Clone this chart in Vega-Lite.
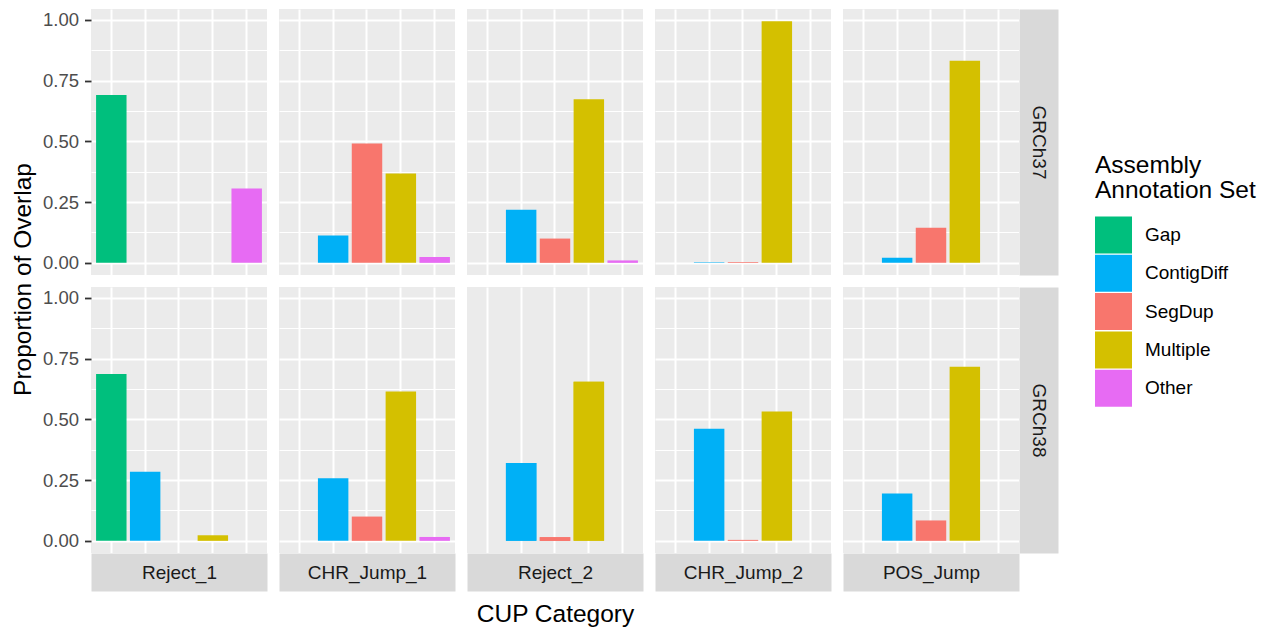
{
  "$schema": "https://vega.github.io/schema/vega-lite/v6.json",
  "autosize": {"type": "none"},
  "padding": {"left": 91, "top": 9, "right": 1176, "bottom": 619},
  "background": "white",
  "bounds": "flush",
  "columns": 5,
  "spacing": 12,
  "datasets": {
    "bars": [
      {"assembly": "GRCh37", "cup": "Reject_1", "set": "Gap", "value": 0.691},
      {"assembly": "GRCh37", "cup": "Reject_1", "set": "Other", "value": 0.306},
      {"assembly": "GRCh37", "cup": "CHR_Jump_1", "set": "ContigDiff", "value": 0.113},
      {"assembly": "GRCh37", "cup": "CHR_Jump_1", "set": "SegDup", "value": 0.491},
      {"assembly": "GRCh37", "cup": "CHR_Jump_1", "set": "Multiple", "value": 0.368},
      {"assembly": "GRCh37", "cup": "CHR_Jump_1", "set": "Other", "value": 0.024},
      {"assembly": "GRCh37", "cup": "Reject_2", "set": "ContigDiff", "value": 0.219},
      {"assembly": "GRCh37", "cup": "Reject_2", "set": "SegDup", "value": 0.1},
      {"assembly": "GRCh37", "cup": "Reject_2", "set": "Multiple", "value": 0.673},
      {"assembly": "GRCh37", "cup": "Reject_2", "set": "Other", "value": 0.01},
      {"assembly": "GRCh37", "cup": "CHR_Jump_2", "set": "ContigDiff", "value": 0.003},
      {"assembly": "GRCh37", "cup": "CHR_Jump_2", "set": "SegDup", "value": 0.003},
      {"assembly": "GRCh37", "cup": "CHR_Jump_2", "set": "Multiple", "value": 0.995},
      {"assembly": "GRCh37", "cup": "POS_Jump", "set": "ContigDiff", "value": 0.021},
      {"assembly": "GRCh37", "cup": "POS_Jump", "set": "SegDup", "value": 0.145},
      {"assembly": "GRCh37", "cup": "POS_Jump", "set": "Multiple", "value": 0.832},
      {"assembly": "GRCh38", "cup": "Reject_1", "set": "Gap", "value": 0.687},
      {"assembly": "GRCh38", "cup": "Reject_1", "set": "ContigDiff", "value": 0.284},
      {"assembly": "GRCh38", "cup": "Reject_1", "set": "Multiple", "value": 0.023},
      {"assembly": "GRCh38", "cup": "CHR_Jump_1", "set": "ContigDiff", "value": 0.258},
      {"assembly": "GRCh38", "cup": "CHR_Jump_1", "set": "SegDup", "value": 0.1},
      {"assembly": "GRCh38", "cup": "CHR_Jump_1", "set": "Multiple", "value": 0.615},
      {"assembly": "GRCh38", "cup": "CHR_Jump_1", "set": "Other", "value": 0.016},
      {"assembly": "GRCh38", "cup": "Reject_2", "set": "ContigDiff", "value": 0.321},
      {"assembly": "GRCh38", "cup": "Reject_2", "set": "SegDup", "value": 0.015},
      {"assembly": "GRCh38", "cup": "Reject_2", "set": "Multiple", "value": 0.655},
      {"assembly": "GRCh38", "cup": "CHR_Jump_2", "set": "ContigDiff", "value": 0.461},
      {"assembly": "GRCh38", "cup": "CHR_Jump_2", "set": "SegDup", "value": 0.004},
      {"assembly": "GRCh38", "cup": "CHR_Jump_2", "set": "Multiple", "value": 0.532},
      {"assembly": "GRCh38", "cup": "POS_Jump", "set": "ContigDiff", "value": 0.195},
      {"assembly": "GRCh38", "cup": "POS_Jump", "set": "SegDup", "value": 0.084},
      {"assembly": "GRCh38", "cup": "POS_Jump", "set": "Multiple", "value": 0.717}
    ]
  },
  "data": {"name": "bars"},
  "concat": [
    {
      "width": 176, "height": 266,
      "transform": [{"filter": "datum.assembly === 'GRCh37' && datum.cup === 'Reject_1'"}],
      "mark": {"type": "bar"},
      "encoding": {
        "x": {"field": "set", "type": "nominal", "scale": {"domain": ["Gap", "ContigDiff", "SegDup", "Multiple", "Other"], "paddingInner": 0.1, "paddingOuter": 0.15},
              "axis": {"grid": true, "bandPosition": 0.5, "labels": false, "ticks": false, "domain": false, "title": null, "gridColor": "#FFFFFF", "gridWidth": 2}},
        "y": {"field": "value", "type": "quantitative", "scale": {"domain": [-0.05, 1.045], "nice": false},
              "axis": {"grid": true, "values": [0, 0.125, 0.25, 0.375, 0.5, 0.625, 0.75, 0.875, 1], "gridColor": "#FFFFFF",
                       "gridWidth": {"condition": {"test": "datum.value * 4 === round(datum.value * 4)", "value": 2}, "value": 1},
                       "domain": false, "labelOverlap": false,
                       "labelExpr": "datum.value * 4 === round(datum.value * 4) ? format(datum.value, '.2f') : ''",
                       "labelFontSize": 18.5, "labelColor": "#4D4D4D", "labelPadding": 6,
                       "ticks": true, "tickSize": 6.5, "tickColor": "#333333", "tickWidth": 1.8,
                       "tickOpacity": {"condition": {"test": "datum.value * 4 === round(datum.value * 4)", "value": 1}, "value": 0},
                       "title": "Proportion of Overlap", "titleX": -68, "titleY": 270, "titleAngle": -90, "titleAlign": "center", "titleBaseline": "middle",
                       "titleFontSize": 24.5, "titleFontWeight": "normal", "titleColor": "#000000"}},
        "color": {"field": "set", "type": "nominal", "scale": {"domain": ["Gap", "ContigDiff", "SegDup", "Multiple", "Other"], "range": ["#00BF7D", "#00B0F6", "#F8766D", "#D4C000", "#E76BF3"]},
                  "legend": {"title": ["Assembly", "Annotation Set"], "orient": "none", "legendX": 1004, "legendY": 145, "symbolType": "square", "symbolSize": 1369, "symbolStrokeWidth": 0, "symbolOpacity": 1,
                             "labelFontSize": 19, "labelColor": "#000000", "labelOffset": 13, "titleFontSize": 24.5, "titleFontWeight": "normal", "titleColor": "#000000", "titleLineHeight": 25, "titlePadding": 13, "rowPadding": 1.3, "padding": 0}}
      }
    },
    {
      "width": 176, "height": 266,
      "transform": [{"filter": "datum.assembly === 'GRCh37' && datum.cup === 'CHR_Jump_1'"}],
      "mark": {"type": "bar"},
      "encoding": {
        "x": {"field": "set", "type": "nominal", "scale": {"domain": ["Gap", "ContigDiff", "SegDup", "Multiple", "Other"], "paddingInner": 0.1, "paddingOuter": 0.15},
              "axis": {"grid": true, "bandPosition": 0.5, "labels": false, "ticks": false, "domain": false, "title": null, "gridColor": "#FFFFFF", "gridWidth": 2}},
        "y": {"field": "value", "type": "quantitative", "scale": {"domain": [-0.05, 1.045], "nice": false},
              "axis": {"grid": true, "values": [0, 0.125, 0.25, 0.375, 0.5, 0.625, 0.75, 0.875, 1], "gridColor": "#FFFFFF",
                       "gridWidth": {"condition": {"test": "datum.value * 4 === round(datum.value * 4)", "value": 2}, "value": 1},
                       "domain": false, "labels": false, "ticks": false, "title": null}},
        "color": {"field": "set", "type": "nominal", "scale": {"domain": ["Gap", "ContigDiff", "SegDup", "Multiple", "Other"], "range": ["#00BF7D", "#00B0F6", "#F8766D", "#D4C000", "#E76BF3"]},
                  "legend": {"title": ["Assembly", "Annotation Set"], "orient": "none", "legendX": 1004, "legendY": 145, "symbolType": "square", "symbolSize": 1369, "symbolStrokeWidth": 0, "symbolOpacity": 1,
                             "labelFontSize": 19, "labelColor": "#000000", "labelOffset": 13, "titleFontSize": 24.5, "titleFontWeight": "normal", "titleColor": "#000000", "titleLineHeight": 25, "titlePadding": 13, "rowPadding": 1.3, "padding": 0}}
      }
    },
    {
      "width": 176, "height": 266,
      "transform": [{"filter": "datum.assembly === 'GRCh37' && datum.cup === 'Reject_2'"}],
      "mark": {"type": "bar"},
      "encoding": {
        "x": {"field": "set", "type": "nominal", "scale": {"domain": ["Gap", "ContigDiff", "SegDup", "Multiple", "Other"], "paddingInner": 0.1, "paddingOuter": 0.15},
              "axis": {"grid": true, "bandPosition": 0.5, "labels": false, "ticks": false, "domain": false, "title": null, "gridColor": "#FFFFFF", "gridWidth": 2}},
        "y": {"field": "value", "type": "quantitative", "scale": {"domain": [-0.05, 1.045], "nice": false},
              "axis": {"grid": true, "values": [0, 0.125, 0.25, 0.375, 0.5, 0.625, 0.75, 0.875, 1], "gridColor": "#FFFFFF",
                       "gridWidth": {"condition": {"test": "datum.value * 4 === round(datum.value * 4)", "value": 2}, "value": 1},
                       "domain": false, "labels": false, "ticks": false, "title": null}},
        "color": {"field": "set", "type": "nominal", "scale": {"domain": ["Gap", "ContigDiff", "SegDup", "Multiple", "Other"], "range": ["#00BF7D", "#00B0F6", "#F8766D", "#D4C000", "#E76BF3"]},
                  "legend": {"title": ["Assembly", "Annotation Set"], "orient": "none", "legendX": 1004, "legendY": 145, "symbolType": "square", "symbolSize": 1369, "symbolStrokeWidth": 0, "symbolOpacity": 1,
                             "labelFontSize": 19, "labelColor": "#000000", "labelOffset": 13, "titleFontSize": 24.5, "titleFontWeight": "normal", "titleColor": "#000000", "titleLineHeight": 25, "titlePadding": 13, "rowPadding": 1.3, "padding": 0}}
      }
    },
    {
      "width": 176, "height": 266,
      "transform": [{"filter": "datum.assembly === 'GRCh37' && datum.cup === 'CHR_Jump_2'"}],
      "mark": {"type": "bar"},
      "encoding": {
        "x": {"field": "set", "type": "nominal", "scale": {"domain": ["Gap", "ContigDiff", "SegDup", "Multiple", "Other"], "paddingInner": 0.1, "paddingOuter": 0.15},
              "axis": {"grid": true, "bandPosition": 0.5, "labels": false, "ticks": false, "domain": false, "title": null, "gridColor": "#FFFFFF", "gridWidth": 2}},
        "y": {"field": "value", "type": "quantitative", "scale": {"domain": [-0.05, 1.045], "nice": false},
              "axis": {"grid": true, "values": [0, 0.125, 0.25, 0.375, 0.5, 0.625, 0.75, 0.875, 1], "gridColor": "#FFFFFF",
                       "gridWidth": {"condition": {"test": "datum.value * 4 === round(datum.value * 4)", "value": 2}, "value": 1},
                       "domain": false, "labels": false, "ticks": false, "title": null}},
        "color": {"field": "set", "type": "nominal", "scale": {"domain": ["Gap", "ContigDiff", "SegDup", "Multiple", "Other"], "range": ["#00BF7D", "#00B0F6", "#F8766D", "#D4C000", "#E76BF3"]},
                  "legend": {"title": ["Assembly", "Annotation Set"], "orient": "none", "legendX": 1004, "legendY": 145, "symbolType": "square", "symbolSize": 1369, "symbolStrokeWidth": 0, "symbolOpacity": 1,
                             "labelFontSize": 19, "labelColor": "#000000", "labelOffset": 13, "titleFontSize": 24.5, "titleFontWeight": "normal", "titleColor": "#000000", "titleLineHeight": 25, "titlePadding": 13, "rowPadding": 1.3, "padding": 0}}
      }
    },
    {
      "width": 176, "height": 266,
      "transform": [{"filter": "datum.assembly === 'GRCh37' && datum.cup === 'POS_Jump'"}],
      "mark": {"type": "bar"},
      "encoding": {
        "x": {"field": "set", "type": "nominal", "scale": {"domain": ["Gap", "ContigDiff", "SegDup", "Multiple", "Other"], "paddingInner": 0.1, "paddingOuter": 0.15},
              "axis": {"grid": true, "bandPosition": 0.5, "labels": false, "ticks": false, "domain": false, "title": null, "gridColor": "#FFFFFF", "gridWidth": 2}},
        "y": {"field": "value", "type": "quantitative", "scale": {"domain": [-0.05, 1.045], "nice": false},
              "axis": {"orient": "right", "grid": true, "values": [0, 0.125, 0.25, 0.375, 0.5, 0.625, 0.75, 0.875, 1], "gridColor": "#FFFFFF",
                       "gridWidth": {"condition": {"test": "datum.value * 4 === round(datum.value * 4)", "value": 2}, "value": 1},
                       "labels": false, "ticks": false,
                       "domain": true, "domainColor": "#D9D9D9", "domainWidth": 39, "domainCap": "butt", "offset": 19.5,
                       "title": "GRCh37", "titleX": 0, "titleY": 133, "titleAngle": 90, "titleAlign": "center", "titleBaseline": "middle",
                       "titleFontSize": 19, "titleFontWeight": "normal", "titleColor": "#1A1A1A"}},
        "color": {"field": "set", "type": "nominal", "scale": {"domain": ["Gap", "ContigDiff", "SegDup", "Multiple", "Other"], "range": ["#00BF7D", "#00B0F6", "#F8766D", "#D4C000", "#E76BF3"]},
                  "legend": {"title": ["Assembly", "Annotation Set"], "orient": "none", "legendX": 1004, "legendY": 145, "symbolType": "square", "symbolSize": 1369, "symbolStrokeWidth": 0, "symbolOpacity": 1,
                             "labelFontSize": 19, "labelColor": "#000000", "labelOffset": 13, "titleFontSize": 24.5, "titleFontWeight": "normal", "titleColor": "#000000", "titleLineHeight": 25, "titlePadding": 13, "rowPadding": 1.3, "padding": 0}}
      }
    },
    {
      "width": 176, "height": 266,
      "transform": [{"filter": "datum.assembly === 'GRCh38' && datum.cup === 'Reject_1'"}],
      "mark": {"type": "bar"},
      "encoding": {
        "x": {"field": "set", "type": "nominal", "scale": {"domain": ["Gap", "ContigDiff", "SegDup", "Multiple", "Other"], "paddingInner": 0.1, "paddingOuter": 0.15},
              "axis": {"grid": true, "bandPosition": 0.5, "labels": false, "ticks": false, "gridColor": "#FFFFFF", "gridWidth": 2,
                       "domain": true, "domainColor": "#D9D9D9", "domainWidth": 38, "domainCap": "butt", "offset": 19,
                       "title": "Reject_1", "titleX": 88, "titleY": 0, "titleAngle": 0, "titleAlign": "center", "titleBaseline": "middle",
                       "titleFontSize": 19, "titleFontWeight": "normal", "titleColor": "#1A1A1A"}},
        "y": {"field": "value", "type": "quantitative", "scale": {"domain": [-0.05, 1.045], "nice": false},
              "axis": {"grid": true, "values": [0, 0.125, 0.25, 0.375, 0.5, 0.625, 0.75, 0.875, 1], "gridColor": "#FFFFFF",
                       "gridWidth": {"condition": {"test": "datum.value * 4 === round(datum.value * 4)", "value": 2}, "value": 1},
                       "domain": false, "labelOverlap": false,
                       "labelExpr": "datum.value * 4 === round(datum.value * 4) ? format(datum.value, '.2f') : ''",
                       "labelFontSize": 18.5, "labelColor": "#4D4D4D", "labelPadding": 6,
                       "ticks": true, "tickSize": 6.5, "tickColor": "#333333", "tickWidth": 1.8,
                       "tickOpacity": {"condition": {"test": "datum.value * 4 === round(datum.value * 4)", "value": 1}, "value": 0},
                       "title": null}},
        "color": {"field": "set", "type": "nominal", "scale": {"domain": ["Gap", "ContigDiff", "SegDup", "Multiple", "Other"], "range": ["#00BF7D", "#00B0F6", "#F8766D", "#D4C000", "#E76BF3"]},
                  "legend": {"title": ["Assembly", "Annotation Set"], "orient": "none", "legendX": 1004, "legendY": 145, "symbolType": "square", "symbolSize": 1369, "symbolStrokeWidth": 0, "symbolOpacity": 1,
                             "labelFontSize": 19, "labelColor": "#000000", "labelOffset": 13, "titleFontSize": 24.5, "titleFontWeight": "normal", "titleColor": "#000000", "titleLineHeight": 25, "titlePadding": 13, "rowPadding": 1.3, "padding": 0}}
      }
    },
    {
      "width": 176, "height": 266,
      "transform": [{"filter": "datum.assembly === 'GRCh38' && datum.cup === 'CHR_Jump_1'"}],
      "mark": {"type": "bar"},
      "encoding": {
        "x": {"field": "set", "type": "nominal", "scale": {"domain": ["Gap", "ContigDiff", "SegDup", "Multiple", "Other"], "paddingInner": 0.1, "paddingOuter": 0.15},
              "axis": {"grid": true, "bandPosition": 0.5, "labels": false, "ticks": false, "gridColor": "#FFFFFF", "gridWidth": 2,
                       "domain": true, "domainColor": "#D9D9D9", "domainWidth": 38, "domainCap": "butt", "offset": 19,
                       "title": "CHR_Jump_1", "titleX": 88, "titleY": 0, "titleAngle": 0, "titleAlign": "center", "titleBaseline": "middle",
                       "titleFontSize": 19, "titleFontWeight": "normal", "titleColor": "#1A1A1A"}},
        "y": {"field": "value", "type": "quantitative", "scale": {"domain": [-0.05, 1.045], "nice": false},
              "axis": {"grid": true, "values": [0, 0.125, 0.25, 0.375, 0.5, 0.625, 0.75, 0.875, 1], "gridColor": "#FFFFFF",
                       "gridWidth": {"condition": {"test": "datum.value * 4 === round(datum.value * 4)", "value": 2}, "value": 1},
                       "domain": false, "labels": false, "ticks": false, "title": null}},
        "color": {"field": "set", "type": "nominal", "scale": {"domain": ["Gap", "ContigDiff", "SegDup", "Multiple", "Other"], "range": ["#00BF7D", "#00B0F6", "#F8766D", "#D4C000", "#E76BF3"]},
                  "legend": {"title": ["Assembly", "Annotation Set"], "orient": "none", "legendX": 1004, "legendY": 145, "symbolType": "square", "symbolSize": 1369, "symbolStrokeWidth": 0, "symbolOpacity": 1,
                             "labelFontSize": 19, "labelColor": "#000000", "labelOffset": 13, "titleFontSize": 24.5, "titleFontWeight": "normal", "titleColor": "#000000", "titleLineHeight": 25, "titlePadding": 13, "rowPadding": 1.3, "padding": 0}}
      }
    },
    {
      "width": 176, "height": 266,
      "transform": [{"filter": "datum.assembly === 'GRCh38' && datum.cup === 'Reject_2'"}],
      "layer": [
        {
          "mark": {"type": "bar"},
          "encoding": {
            "x": {"field": "set", "type": "nominal", "scale": {"domain": ["Gap", "ContigDiff", "SegDup", "Multiple", "Other"], "paddingInner": 0.1, "paddingOuter": 0.15},
                  "axis": {"orient": "bottom", "grid": true, "bandPosition": 0.5, "labels": false, "ticks": false, "gridColor": "#FFFFFF", "gridWidth": 2,
                           "domain": true, "domainColor": "#D9D9D9", "domainWidth": 38, "domainCap": "butt", "offset": 19,
                           "title": "Reject_2", "titleX": 88, "titleY": 0, "titleAngle": 0, "titleAlign": "center", "titleBaseline": "middle",
                           "titleFontSize": 19, "titleFontWeight": "normal", "titleColor": "#1A1A1A"}},
            "y": {"field": "value", "type": "quantitative", "scale": {"domain": [-0.05, 1.045], "nice": false},
                  "axis": {"grid": true, "values": [0, 0.125, 0.25, 0.375, 0.5, 0.625, 0.75, 0.875, 1], "gridColor": "#FFFFFF",
                           "gridWidth": {"condition": {"test": "datum.value * 4 === round(datum.value * 4)", "value": 2}, "value": 1},
                           "domain": false, "labels": false, "ticks": false, "title": null}},
            "color": {"field": "set", "type": "nominal", "scale": {"domain": ["Gap", "ContigDiff", "SegDup", "Multiple", "Other"], "range": ["#00BF7D", "#00B0F6", "#F8766D", "#D4C000", "#E76BF3"]},
                      "legend": {"title": ["Assembly", "Annotation Set"], "orient": "none", "legendX": 1004, "legendY": 145, "symbolType": "square", "symbolSize": 1369, "symbolStrokeWidth": 0, "symbolOpacity": 1,
                                 "labelFontSize": 19, "labelColor": "#000000", "labelOffset": 13, "titleFontSize": 24.5, "titleFontWeight": "normal", "titleColor": "#000000", "titleLineHeight": 25, "titlePadding": 13, "rowPadding": 1.3, "padding": 0}}
          }
        },
        {
          "mark": {"type": "bar"},
          "encoding": {
            "x": {"field": "set", "type": "nominal", "scale": {"domain": ["Gap", "ContigDiff", "SegDup", "Multiple", "Other"], "paddingInner": 0.1, "paddingOuter": 0.15},
                  "axis": {"orient": "bottom", "grid": false, "labels": false, "ticks": false, "domain": false,
                           "title": "CUP Category", "titleX": 88, "titleY": 68, "titleAngle": 0, "titleAlign": "center", "titleBaseline": "alphabetic",
                           "titleFontSize": 24.5, "titleFontWeight": "normal", "titleColor": "#000000"}},
            "y": {"field": "value", "type": "quantitative", "scale": {"domain": [-0.05, 1.045], "nice": false}, "axis": null},
            "color": {"field": "set", "type": "nominal", "scale": {"domain": ["Gap", "ContigDiff", "SegDup", "Multiple", "Other"], "range": ["#00BF7D", "#00B0F6", "#F8766D", "#D4C000", "#E76BF3"]},
                      "legend": {"title": ["Assembly", "Annotation Set"], "orient": "none", "legendX": 1004, "legendY": 145, "symbolType": "square", "symbolSize": 1369, "symbolStrokeWidth": 0, "symbolOpacity": 1,
                                 "labelFontSize": 19, "labelColor": "#000000", "labelOffset": 13, "titleFontSize": 24.5, "titleFontWeight": "normal", "titleColor": "#000000", "titleLineHeight": 25, "titlePadding": 13, "rowPadding": 1.3, "padding": 0}}
          }
        }
      ],
      "resolve": {"axis": {"x": "independent"}}
    },
    {
      "width": 176, "height": 266,
      "transform": [{"filter": "datum.assembly === 'GRCh38' && datum.cup === 'CHR_Jump_2'"}],
      "mark": {"type": "bar"},
      "encoding": {
        "x": {"field": "set", "type": "nominal", "scale": {"domain": ["Gap", "ContigDiff", "SegDup", "Multiple", "Other"], "paddingInner": 0.1, "paddingOuter": 0.15},
              "axis": {"grid": true, "bandPosition": 0.5, "labels": false, "ticks": false, "gridColor": "#FFFFFF", "gridWidth": 2,
                       "domain": true, "domainColor": "#D9D9D9", "domainWidth": 38, "domainCap": "butt", "offset": 19,
                       "title": "CHR_Jump_2", "titleX": 88, "titleY": 0, "titleAngle": 0, "titleAlign": "center", "titleBaseline": "middle",
                       "titleFontSize": 19, "titleFontWeight": "normal", "titleColor": "#1A1A1A"}},
        "y": {"field": "value", "type": "quantitative", "scale": {"domain": [-0.05, 1.045], "nice": false},
              "axis": {"grid": true, "values": [0, 0.125, 0.25, 0.375, 0.5, 0.625, 0.75, 0.875, 1], "gridColor": "#FFFFFF",
                       "gridWidth": {"condition": {"test": "datum.value * 4 === round(datum.value * 4)", "value": 2}, "value": 1},
                       "domain": false, "labels": false, "ticks": false, "title": null}},
        "color": {"field": "set", "type": "nominal", "scale": {"domain": ["Gap", "ContigDiff", "SegDup", "Multiple", "Other"], "range": ["#00BF7D", "#00B0F6", "#F8766D", "#D4C000", "#E76BF3"]},
                  "legend": {"title": ["Assembly", "Annotation Set"], "orient": "none", "legendX": 1004, "legendY": 145, "symbolType": "square", "symbolSize": 1369, "symbolStrokeWidth": 0, "symbolOpacity": 1,
                             "labelFontSize": 19, "labelColor": "#000000", "labelOffset": 13, "titleFontSize": 24.5, "titleFontWeight": "normal", "titleColor": "#000000", "titleLineHeight": 25, "titlePadding": 13, "rowPadding": 1.3, "padding": 0}}
      }
    },
    {
      "width": 176, "height": 266,
      "transform": [{"filter": "datum.assembly === 'GRCh38' && datum.cup === 'POS_Jump'"}],
      "mark": {"type": "bar"},
      "encoding": {
        "x": {"field": "set", "type": "nominal", "scale": {"domain": ["Gap", "ContigDiff", "SegDup", "Multiple", "Other"], "paddingInner": 0.1, "paddingOuter": 0.15},
              "axis": {"grid": true, "bandPosition": 0.5, "labels": false, "ticks": false, "gridColor": "#FFFFFF", "gridWidth": 2,
                       "domain": true, "domainColor": "#D9D9D9", "domainWidth": 38, "domainCap": "butt", "offset": 19,
                       "title": "POS_Jump", "titleX": 88, "titleY": 0, "titleAngle": 0, "titleAlign": "center", "titleBaseline": "middle",
                       "titleFontSize": 19, "titleFontWeight": "normal", "titleColor": "#1A1A1A"}},
        "y": {"field": "value", "type": "quantitative", "scale": {"domain": [-0.05, 1.045], "nice": false},
              "axis": {"orient": "right", "grid": true, "values": [0, 0.125, 0.25, 0.375, 0.5, 0.625, 0.75, 0.875, 1], "gridColor": "#FFFFFF",
                       "gridWidth": {"condition": {"test": "datum.value * 4 === round(datum.value * 4)", "value": 2}, "value": 1},
                       "labels": false, "ticks": false,
                       "domain": true, "domainColor": "#D9D9D9", "domainWidth": 39, "domainCap": "butt", "offset": 19.5,
                       "title": "GRCh38", "titleX": 0, "titleY": 133, "titleAngle": 90, "titleAlign": "center", "titleBaseline": "middle",
                       "titleFontSize": 19, "titleFontWeight": "normal", "titleColor": "#1A1A1A"}},
        "color": {"field": "set", "type": "nominal", "scale": {"domain": ["Gap", "ContigDiff", "SegDup", "Multiple", "Other"], "range": ["#00BF7D", "#00B0F6", "#F8766D", "#D4C000", "#E76BF3"]},
                  "legend": {"title": ["Assembly", "Annotation Set"], "orient": "none", "legendX": 1004, "legendY": 145, "symbolType": "square", "symbolSize": 1369, "symbolStrokeWidth": 0, "symbolOpacity": 1,
                             "labelFontSize": 19, "labelColor": "#000000", "labelOffset": 13, "titleFontSize": 24.5, "titleFontWeight": "normal", "titleColor": "#000000", "titleLineHeight": 25, "titlePadding": 13, "rowPadding": 1.3, "padding": 0}}
      }
    }
  ],
  "config": {
    "font": "Liberation Sans",
    "view": {"fill": "#EBEBEB", "stroke": null},
    "axis": {"domainCap": "butt"}
  }
}
